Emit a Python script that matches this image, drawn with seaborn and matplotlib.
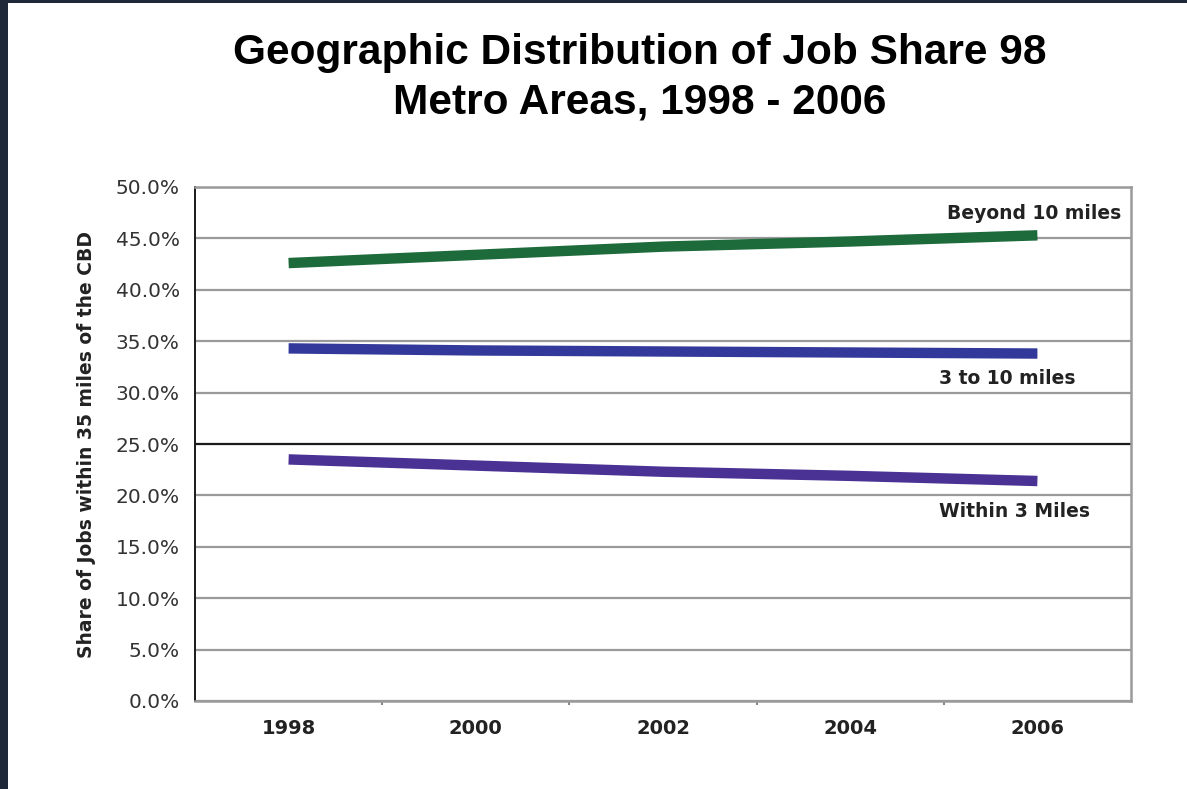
import matplotlib
matplotlib.use("Agg")
import matplotlib.pyplot as plt
import seaborn as sns
import pandas as pd
from matplotlib.patches import Rectangle
from matplotlib.ticker import FixedLocator, FuncFormatter

# Share of jobs within 35 miles of the CBD, by distance ring
years = [1998, 2000, 2002, 2004, 2006]
beyond_10 = [42.6, 43.4, 44.2, 44.7, 45.3]
three_to_10 = [34.3, 34.1, 34.0, 33.9, 33.8]
within_3 = [23.5, 22.9, 22.3, 21.9, 21.4]
series_names = ["Beyond 10 miles", "3 to 10 miles", "Within 3 Miles"]
series_colors = ["#1d6a3b", "#33399a", "#4a3194"]
y_ticks = [0, 5, 10, 15, 20, 25, 30, 35, 40, 45, 50]

df = pd.DataFrame({
    "year": years * 3,
    "share": beyond_10 + three_to_10 + within_3,
    "ring": [series_names[0]] * 5 + [series_names[1]] * 5 + [series_names[2]] * 5,
})

sns.set_style("white")
plt.rcParams["font.family"] = ["DejaVu Sans"]

fig = plt.figure(figsize=(11.87, 7.89), dpi=100, facecolor="#1e2838")
# white slide panel behind everything
fig.patches.append(Rectangle((8 / 1187, 0), 1, 1 - 3 / 789, transform=fig.transFigure,
                             facecolor="white", edgecolor="none", zorder=-10))

ax = fig.add_axes([195 / 1187, 1 - 701 / 789, 936 / 1187, 514 / 789])
ax.set_facecolor("white")

# gridlines
for t in y_ticks:
    ax.axhline(t, color="#1a1a1a" if t == 25 else "#9a9a9a", lw=1.6, zorder=1)

sns.lineplot(data=df, x="year", y="share", hue="ring", hue_order=series_names,
             palette=series_colors, linewidth=7.5, legend=False, ax=ax,
             solid_capstyle="butt", zorder=3)

ax.set_xlim(1997, 2007)
ax.set_ylim(0, 50)
ax.set_xticks(years)
ax.set_xticklabels([str(y) for y in years], fontsize=14, fontweight="bold", color="#222222")
ax.xaxis.set_minor_locator(FixedLocator([1999, 2001, 2003, 2005]))
ax.tick_params(axis="x", which="major", length=0, pad=13)
ax.tick_params(axis="x", which="minor", length=3, width=1.5, color="#888888",
               direction="out", bottom=True)
ax.set_yticks(y_ticks)
ax.yaxis.set_major_formatter(FuncFormatter(lambda v, p: f"{v:.1f}%"))
ax.tick_params(axis="y", length=0, pad=11, labelsize=14.5, labelcolor="#333333")
ax.set_xlabel("")
ax.set_ylabel("Share of Jobs within 35 miles of the CBD", fontsize=13.5, fontweight="bold",
              color="#222222")
ax.yaxis.set_label_coords(-0.1058, 0.5)

for side in ["top", "right", "bottom"]:
    ax.spines[side].set_color("#9a9a9a")
    ax.spines[side].set_linewidth(1.8)
ax.spines["left"].set_color("#1a1a1a")
ax.spines["left"].set_linewidth(1.4)

# series labels
ax.text(2006.9, 47.4, series_names[0], fontsize=13.5, fontweight="bold", ha="right",
        va="center", color="#222222")
ax.text(2004.95, 31.4, series_names[1], fontsize=13.5, fontweight="bold", ha="left",
        va="center", color="#222222")
ax.text(2004.95, 18.4, series_names[2], fontsize=13.5, fontweight="bold", ha="left",
        va="center", color="#222222")

fig.text(640 / 1187, 1 - 53 / 789, "Geographic Distribution of Job Share 98",
         ha="center", va="center", fontsize=30.5, fontweight="bold",
         family=["Liberation Sans", "DejaVu Sans"], color="black")
fig.text(640 / 1187, 1 - 103 / 789, "Metro Areas, 1998 - 2006",
         ha="center", va="center", fontsize=30.5, fontweight="bold",
         family=["Liberation Sans", "DejaVu Sans"], color="black")

fig.savefig("out.png", dpi=100, facecolor=fig.get_facecolor())
